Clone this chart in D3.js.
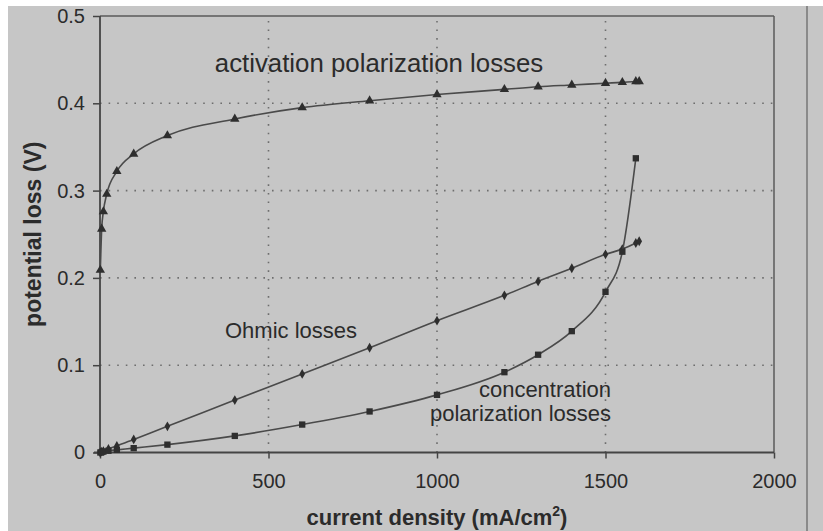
<!DOCTYPE html>
<html><head><meta charset="utf-8">
<script src="https://cdn.jsdelivr.net/npm/d3@7"></script>
<style>html,body{margin:0;padding:0;background:#fff;}svg{display:block;}</style>
</head><body>
<svg id="chart" width="823" height="531"></svg>
<script>
const xTicks = [0, 500, 1000, 1500, 2000];
const yTicks = [0, 0.1, 0.2, 0.3, 0.4, 0.5];

const activationX = [1, 5, 10, 20, 50, 100, 200, 400, 600, 800, 1000, 1200, 1300, 1400, 1500, 1550, 1590, 1600];
const activationY = [0.209, 0.256, 0.276, 0.296, 0.322, 0.342, 0.363, 0.382, 0.395, 0.403, 0.410, 0.416, 0.419, 0.421, 0.423, 0.424, 0.425, 0.425];

const ohmicX = [1, 5, 10, 25, 50, 100, 200, 400, 600, 800, 1000, 1200, 1300, 1400, 1500, 1550, 1590, 1600];
const ohmicY = [0.0002, 0.001, 0.0015, 0.004, 0.0075, 0.015, 0.030, 0.060, 0.090, 0.120, 0.151, 0.180, 0.196, 0.211, 0.227, 0.233, 0.240, 0.242];

const concX = [1, 5, 10, 25, 50, 100, 200, 400, 600, 800, 1000, 1200, 1300, 1400, 1500, 1550, 1590];
const concY = [0.0, 0.0005, 0.001, 0.002, 0.003, 0.005, 0.009, 0.019, 0.032, 0.047, 0.066, 0.092, 0.112, 0.139, 0.184, 0.230, 0.337];

const svg = d3.select("#chart");
const W = 823, H = 531;
const font = "'Liberation Sans', Arial, Helvetica, sans-serif";
const ink = "#2b2b2b";

// scanned page background
svg.append("rect").attr("x", 8).attr("y", 6).attr("width", W - 8).attr("height", H - 6).attr("fill", "#c6c6c6");
svg.append("line").attr("x1", 807).attr("x2", 807).attr("y1", 6).attr("y2", H)
  .attr("stroke", "#8a8a8a").attr("stroke-width", 2);

const x = d3.scaleLinear().domain([0, 2000]).range([100, 774]);
const y = d3.scaleLinear().domain([0, 0.5]).range([452.5, 16]);

// gridlines (dotted)
const grid = svg.append("g");
grid.selectAll(".gx").data(xTicks.filter(d => d > 0 && d < 2000)).join("line")
  .attr("x1", d => x(d)).attr("x2", d => x(d)).attr("y1", y(0)).attr("y2", y(0.5))
  .attr("stroke", "#6e6e6e").attr("stroke-width", 1.6).attr("stroke-dasharray", "1.6,7");
grid.selectAll(".gy").data(yTicks.filter(d => d > 0 && d < 0.5)).join("line")
  .attr("x1", x(0)).attr("x2", x(2000)).attr("y1", d => y(d)).attr("y2", d => y(d))
  .attr("stroke", "#6e6e6e").attr("stroke-width", 1.6).attr("stroke-dasharray", "1.6,7");

// frame top & right
svg.append("line").attr("x1", x(0)).attr("x2", x(2000)).attr("y1", y(0.5)).attr("y2", y(0.5))
  .attr("stroke", "#5a5a5a").attr("stroke-width", 1.5);
svg.append("line").attr("x1", x(2000)).attr("x2", x(2000)).attr("y1", y(0.5)).attr("y2", y(0))
  .attr("stroke", "#5a5a5a").attr("stroke-width", 1.5);

// axes
const xAxis = d3.axisBottom(x).tickValues(xTicks).tickSize(6).tickPadding(15).tickFormat(d3.format("d"));
const yAxis = d3.axisLeft(y).tickValues(yTicks).tickSize(7).tickPadding(8).tickFormat(d => d === 0 ? "0" : d3.format(".1f")(d));

const gx = svg.append("g").attr("transform", `translate(0,${y(0)})`).call(xAxis);
const gy = svg.append("g").attr("transform", `translate(${x(0)},0)`).call(yAxis);
[gx, gy].forEach(g => {
  g.select(".domain").attr("stroke", "#444").attr("stroke-width", 1.8);
  g.selectAll(".tick line").attr("stroke", "#444").attr("stroke-width", 1.5);
  g.selectAll(".tick text").attr("fill", ink).style("font-family", font).style("font-size", "20px");
});
gy.select(".domain").attr("d", `M0,${y(0.5)}V${y(0) + 4}`);
gx.select(".domain").attr("d", `M${x(0) - 6},0H${x(2000)}`);

// series
function draw(xs, ys, shape, size) {
  const pts = xs.map((v, i) => [x(v), y(ys[i])]);
  svg.append("path").attr("d", d3.line().curve(d3.curveMonotoneX)(pts))
    .attr("fill", "none").attr("stroke", "#4a4a4a").attr("stroke-width", 1.6);
  svg.append("g").selectAll("path").data(pts).join("path")
    .attr("transform", d => `translate(${d[0]},${d[1]})`)
    .attr("d", d3.symbol().type(shape).size(size))
    .attr("fill", "#2e2e2e");
}
draw(activationX, activationY, d3.symbolTriangle, 38);
draw(ohmicX, ohmicY, d3.symbolDiamond, 28);
draw(concX, concY, d3.symbolSquare, 40);

// annotations
const ann = (t, ax, ay, anchor, size) => svg.append("text").attr("x", ax).attr("y", ay)
  .attr("text-anchor", anchor).attr("fill", ink).style("font-family", font).style("font-size", size + "px").text(t);
ann("activation polarization losses", 379, 72, "middle", 25.8);
ann("Ohmic losses", 291, 338, "middle", 22);
ann("concentration", 611, 397, "end", 22);
ann("polarization losses", 611, 421, "end", 22);

// axis titles
const xt = svg.append("text").attr("x", 437).attr("y", 525).attr("text-anchor", "middle")
  .attr("fill", ink).style("font-family", font).style("font-size", "22px").style("font-weight", "bold");
xt.append("tspan").text("current density (mA/cm");
xt.append("tspan").attr("dy", -9).style("font-size", "14px").text("2");
xt.append("tspan").attr("dy", 9).text(")");

svg.append("text").attr("transform", `translate(41,${(y(0) + y(0.5)) / 2}) rotate(-90)`)
  .attr("text-anchor", "middle").attr("fill", ink).style("font-family", font)
  .style("font-size", "23px").style("font-weight", "bold").text("potential loss (V)");
</script>
</body></html>
